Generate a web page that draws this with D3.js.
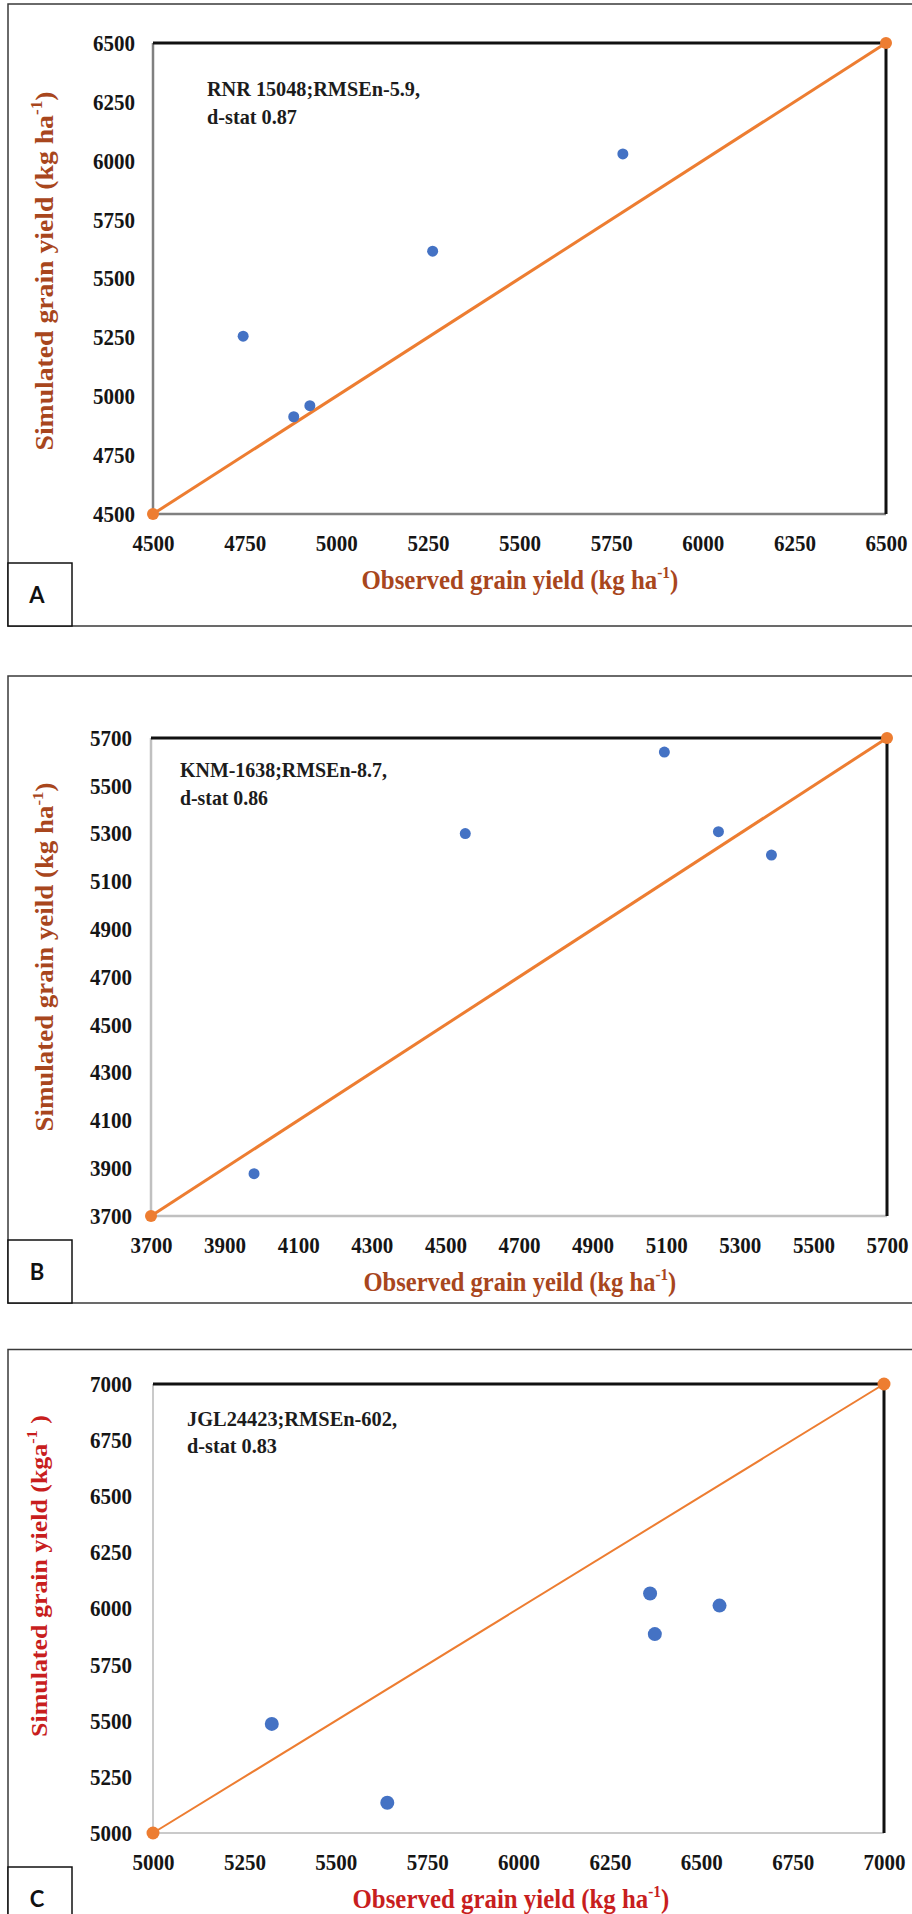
<!DOCTYPE html>
<html>
<head>
<meta charset="utf-8">
<script src="https://cdn.jsdelivr.net/npm/d3@7"></script>
<style>
  body { margin: 0; background: #fff; }
  svg { display: block; }
</style>
</head>
<body>
<script>
// panel A - RNR 15048
const obsA = [4746, 4884, 4928, 5263, 5782];
const simA = [5255, 4913, 4960, 5616, 6029];
const domainA = [4500, 6500];
const ticksA = [4500, 4750, 5000, 5250, 5500, 5750, 6000, 6250, 6500];
const noteA = ["RNR 15048;RMSEn-5.9,", "d-stat 0.87"];
const xTitleA = ["Observed grain yield (kg ha", "-1", ")"];
const yTitleA = ["Simulated grain yield (kg ha", "-1", ")"];

// panel B - KNM-1638
const obsB = [3980, 4554, 5095, 5242, 5386];
const simB = [3877, 5300, 5641, 5308, 5210];
const domainB = [3700, 5700];
const ticksB = [3700, 3900, 4100, 4300, 4500, 4700, 4900, 5100, 5300, 5500, 5700];
const noteB = ["KNM-1638;RMSEn-8.7,", "d-stat 0.86"];
const xTitleB = ["Observed grain yeild (kg ha", "-1", ")"];
const yTitleB = ["Simulated grain yeild (kg ha", "-1", ")"];

// panel C - JGL24423
const obsC = [5325, 5641, 6360, 6373, 6550];
const simC = [5486, 5135, 6067, 5886, 6013];
const domainC = [5000, 7000];
const ticksC = [5000, 5250, 5500, 5750, 6000, 6250, 6500, 6750, 7000];
const noteC = ["JGL24423;RMSEn-602,", "d-stat 0.83"];
const xTitleC = ["Observed grain yield (kg ha", "-1", ")"];
const yTitleC = ["Simulated grain yield (kga", "-1", " )"];

const serif = "'Liberation Serif', 'Times New Roman', serif";
const orange = "#ED7D31";
const blue = "#4472C4";

// layout of the three stacked panels
const panels = [
    {tag: "A", obs: obsA, sim: simA, domain: domainA, ticks: ticksA, note: noteA, xTitle: xTitleA, yTitle: yTitleA,
        frame: [4, 626], plot: {left: 153, right: 886, top: 43, bottom: 514},
        axisColor: "#808080", axisWidth: 2.5, lineWidth: 3, dotR: 5.5, endR: 6, labelPad: 18,
        titleColor: "#a8461d", noteX: 54, noteY: [53, 81], noteW: [213, 90],
        xTitleX: 520, xTitleW: 317, yTitleX: 53, yTitleY: 271, yTitleW: 359, yTitleSize: 26},
    {tag: "B", obs: obsB, sim: simB, domain: domainB, ticks: ticksB, note: noteB, xTitle: xTitleB, yTitle: yTitleB,
        frame: [676, 1303], plot: {left: 151, right: 887, top: 738, bottom: 1216},
        axisColor: "#c0c0c0", axisWidth: 2.5, lineWidth: 3, dotR: 5.5, endR: 6, labelPad: 19,
        titleColor: "#a8461d", noteX: 29, noteY: [39, 67], noteW: [207, 88],
        xTitleX: 520, xTitleW: 313, yTitleX: 53, yTitleY: 957, yTitleW: 349, yTitleSize: 25},
    {tag: "C", obs: obsC, sim: simC, domain: domainC, ticks: ticksC, note: noteC, xTitle: xTitleC, yTitle: yTitleC,
        frame: [1349.5, 1930], plot: {left: 153, right: 884, top: 1384, bottom: 1833},
        axisColor: "#cacaca", axisWidth: 2, lineWidth: 2, dotR: 7, endR: 6.5, labelPad: 21,
        titleColor: "#c81e1e", noteX: 34, noteY: [42, 69], noteW: [210, 90],
        xTitleX: 511, xTitleW: 317, yTitleX: 47, yTitleY: 1576, yTitleW: 322, yTitleSize: 24}
];

let svg = d3.select("body")
    .append("svg")
    .attr("width", 912)
    .attr("height", 1914)

// title with a superscript, stretched to the measured width and centred on 0
const fitTitle = (g, parts, size, color, target) => {
    let t = g.append("text")
        .attr("font-family", serif)
        .attr("font-weight", "bold")
        .attr("font-size", size)
        .attr("fill", color)
    t.append("tspan").text(parts[0])
    t.append("tspan").attr("dy", -size * 0.42).attr("font-size", size * 0.62).text(parts[1])
    t.append("tspan").attr("dy", size * 0.42).text(parts[2])
    let w = t.node().getBBox().width;
    t.attr("transform", `translate(${-target / 2},0) scale(${target / w},1)`)
}

// tick labels in the picture are tall and narrow
const styleTicks = (g) => {
    g.select(".domain").remove();
    g.attr("font-family", serif)
        .attr("font-size", 23)
        .attr("font-weight", "bold")
        .attr("color", "#151515")
    g.selectAll("text")
        .attr("textLength", 42)
        .attr("lengthAdjust", "spacingAndGlyphs")
}

panels.forEach((p) => {
    let x = d3.scaleLinear().domain(p.domain).range([p.plot.left, p.plot.right]);
    let y = d3.scaleLinear().domain(p.domain).range([p.plot.bottom, p.plot.top]);

    // outer panel border and letter box
    svg.append("rect")
        .attr("x", 8)
        .attr("y", p.frame[0])
        .attr("width", 930)
        .attr("height", p.frame[1] - p.frame[0])
        .attr("fill", "none")
        .attr("stroke", "#3a3a3a")
        .attr("stroke-width", 1.5)

    svg.append("rect")
        .attr("x", 8)
        .attr("y", p.frame[1] - 63)
        .attr("width", 64)
        .attr("height", p.tag === "C" ? 120 : 63)
        .attr("fill", "white")
        .attr("stroke", "#111")
        .attr("stroke-width", 1.5)

    svg.append("text")
        .attr("x", 37)
        .attr("y", p.frame[1] - 63 + 31)
        .attr("text-anchor", "middle")
        .attr("dominant-baseline", "central")
        .attr("font-family", "Lato, 'Open Sans', sans-serif")
        .attr("font-weight", "bold")
        .attr("font-size", 22)
        .attr("fill", "#111")
        .text(p.tag)

    // axes, only the labels are kept
    svg.append("g")
        .attr("transform", `translate(0,${p.plot.bottom})`)
        .call(d3.axisBottom(x).tickValues(p.ticks).tickSize(0).tickPadding(21).tickFormat(d3.format("d")))
        .call(styleTicks)

    svg.append("g")
        .attr("transform", `translate(${p.plot.left},0)`)
        .call(d3.axisLeft(y).tickValues(p.ticks).tickSize(0).tickPadding(p.labelPad).tickFormat(d3.format("d")))
        .call(styleTicks)

    // plot frame: grey left/bottom, black top/right
    let frame = svg.append("g").attr("fill", "none");
    frame.append("path")
        .attr("d", `M${x(p.domain[0])},${y(p.domain[1])}V${y(p.domain[0])}H${x(p.domain[1])}`)
        .attr("stroke", p.axisColor)
        .attr("stroke-width", p.axisWidth)
    frame.append("path")
        .attr("d", `M${x(p.domain[0])},${y(p.domain[1])}H${x(p.domain[1])}V${y(p.domain[0])}`)
        .attr("stroke", "#111")
        .attr("stroke-width", 3)

    // 1:1 line with its end markers
    svg.append("line")
        .attr("x1", x(p.domain[0]))
        .attr("y1", y(p.domain[0]))
        .attr("x2", x(p.domain[1]))
        .attr("y2", y(p.domain[1]))
        .attr("stroke", orange)
        .attr("stroke-width", p.lineWidth)

    svg.append("g")
        .selectAll("circle")
        .data(p.domain)
        .enter()
        .append("circle")
        .attr("cx", (d) => x(d))
        .attr("cy", (d) => y(d))
        .attr("r", p.endR)
        .attr("fill", orange)

    // observed vs simulated points
    svg.append("g")
        .selectAll("circle")
        .data(p.obs.map((d, i) => [d, p.sim[i]]))
        .enter()
        .append("circle")
        .attr("cx", (d) => x(d[0]))
        .attr("cy", (d) => y(d[1]))
        .attr("r", p.dotR)
        .attr("fill", blue)

    // statistics note
    svg.append("g")
        .selectAll("text")
        .data(p.note)
        .enter()
        .append("text")
        .attr("x", p.plot.left + p.noteX)
        .attr("y", (d, i) => p.plot.top + p.noteY[i])
        .attr("font-family", serif)
        .attr("font-weight", "bold")
        .attr("font-size", 21)
        .attr("fill", "#1c1c1c")
        .attr("textLength", (d, i) => p.noteW[i])
        .attr("lengthAdjust", "spacingAndGlyphs")
        .text((d) => d)

    // axis titles
    let xt = svg.append("g")
        .attr("transform", `translate(${p.xTitleX},${p.plot.bottom + 75})`);
    fitTitle(xt, p.xTitle, 27, p.titleColor, p.xTitleW);

    let yt = svg.append("g")
        .attr("transform", `translate(${p.yTitleX},${p.yTitleY}) rotate(-90)`);
    fitTitle(yt, p.yTitle, p.yTitleSize, p.titleColor, p.yTitleW);
});
</script>
</body>
</html>
